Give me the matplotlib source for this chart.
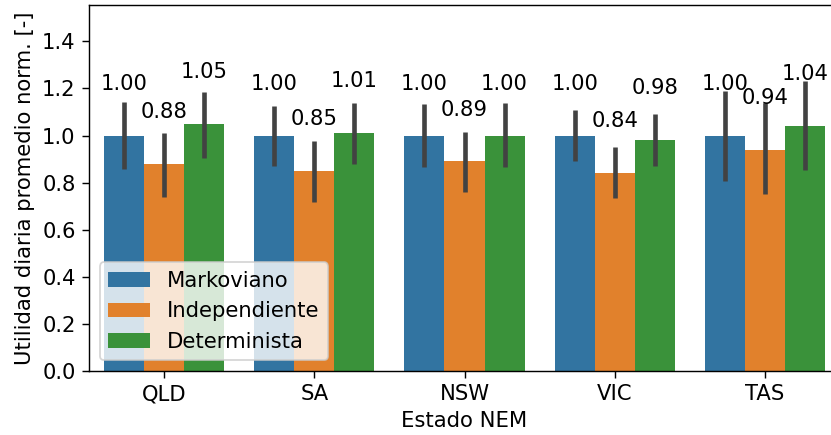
import numpy as np
import matplotlib
matplotlib.use("Agg")
import matplotlib.pyplot as plt

plt.rcParams["font.size"] = 11.9

# estados y series
estados = ["QLD", "SA", "NSW", "VIC", "TAS"]
series = ["Markoviano", "Independiente", "Determinista"]
colores = ["#3274a1", "#e1812c", "#3a923a"]

# utilidad diaria promedio normalizada
markoviano = [1.00, 1.00, 1.00, 1.00, 1.00]
independiente = [0.88, 0.85, 0.89, 0.84, 0.94]
determinista = [1.05, 1.01, 1.00, 0.98, 1.04]

# intervalos de las barras de error (bajo, alto)
markoviano_lo = [0.858, 0.870, 0.866, 0.892, 0.807]
markoviano_hi = [1.142, 1.125, 1.134, 1.108, 1.189]
independiente_lo = [0.739, 0.718, 0.760, 0.735, 0.752]
independiente_hi = [1.011, 0.977, 1.015, 0.951, 1.138]
determinista_lo = [0.904, 0.879, 0.866, 0.870, 0.854]
determinista_hi = [1.185, 1.138, 1.138, 1.091, 1.231]

valores = [markoviano, independiente, determinista]
err_lo = [markoviano_lo, independiente_lo, determinista_lo]
err_hi = [markoviano_hi, independiente_hi, determinista_hi]

fig = plt.figure(figsize=(831 / 128, 435 / 128), dpi=128)
ax = fig.add_axes([89 / 831, 64 / 435, 751 / 831, 365.7 / 435])

x = np.arange(len(estados))
ancho = 0.8 / len(series)

for i, nombre in enumerate(series):
    pos = x - 0.4 + ancho * (i + 0.5)
    ax.bar(pos, valores[i], width=ancho, color=colores[i], label=nombre)
    ax.vlines(pos, err_lo[i], err_hi[i], color="#424242", lw=2.6)
    for p, v in zip(pos, valores[i]):
        ax.text(p, v + 0.22, f"{v:.2f}", ha="center", va="center")

ax.set_xticks(x)
ax.set_xticklabels(estados)
ax.set_xlim(-0.5, 4.5)
ax.set_ylim(0, 1.553)
ax.set_yticks(np.arange(0, 1.41, 0.2))
ax.tick_params(length=4)
ax.set_xlabel("Estado NEM")
ax.set_ylabel("Utilidad diaria promedio norm. [-]")
ax.legend(loc="lower left")

fig.savefig("out.png", dpi=128)
